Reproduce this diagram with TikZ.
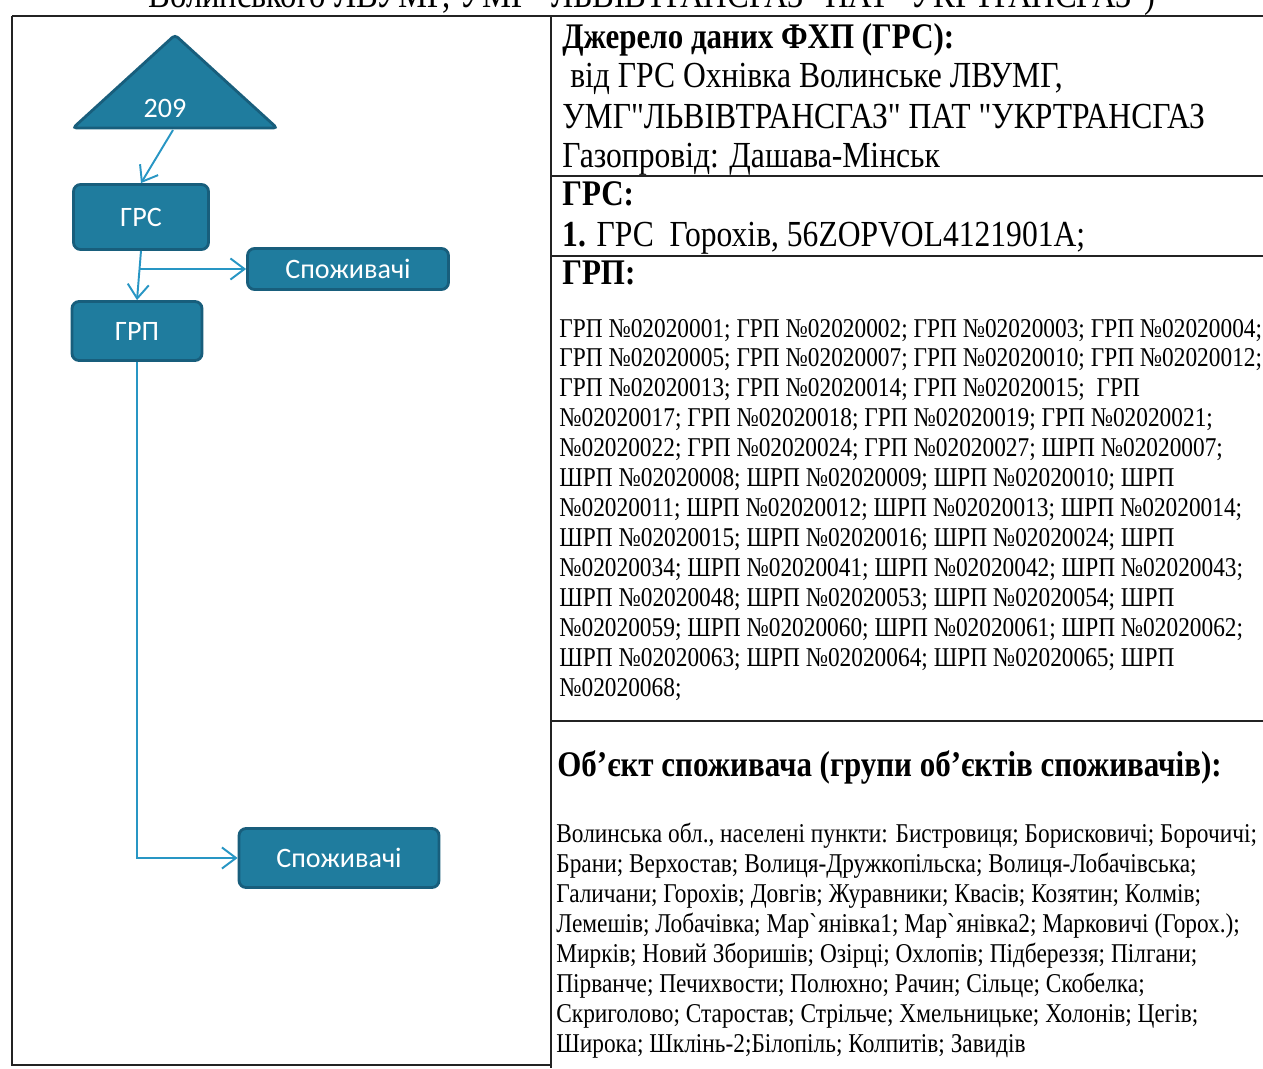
\documentclass[tikz,border=0pt]{standalone}
\usepackage{fontspec}
\newfontfamily\tnr[FakeStretch=0.86]{Liberation Serif}
\newfontfamily\boxfont{Carlito}
\usetikzlibrary{arrows.meta}
\usetikzlibrary{positioning}

\definecolor{boxfill}{RGB}{31,124,158}
\definecolor{boxedge}{RGB}{24,94,124}
\definecolor{pipecol}{RGB}{40,150,196}
\definecolor{rulecol}{RGB}{35,35,35}

\begin{document}
\begin{tikzpicture}[x=0.02cm,y=-0.02cm,
      blk/.style={rectangle,rounded corners=4pt,draw=boxedge,line width=1.6pt,fill=boxfill,
                  text=white,inner sep=0pt,font=\boxfont\fontsize{16}{18}\selectfont},
      tri/.style={draw=boxedge,line width=1.6pt,fill=boxfill,rounded corners=2pt},
      pipe/.style={draw=pipecol,line width=1.1pt,-{Straight Barb[length=8pt,width=12pt]}},
      frame/.style={draw=rulecol,line width=1.1pt},
      big/.style={anchor=base west,inner sep=0pt,font=\tnr\fontsize{20.9}{22}\selectfont},
      hdr/.style={anchor=base west,inner sep=0pt,font=\tnr\bfseries\fontsize{20.5}{22}\selectfont},
      small/.style={anchor=base west,inner sep=0pt,font=\tnr\fontsize{15.45}{17}\selectfont},
  ]
  \path[use as bounding box,fill=white] (0,0) rectangle (1263,1068);
  \clip (0,0) rectangle (1263,1068);

  % table rules
  \draw[frame,line width=1.6pt] (12,16) -- (1263,16);
  \draw[frame] (12,16) -- (12,1066);
  \draw[frame] (12,1065) -- (551,1065);
  \draw[frame] (551,16) -- (551,1068);
  \draw[frame] (551,176) -- (1263,176);
  \draw[frame] (551,256) -- (1263,256);
  \draw[frame] (551,721) -- (1263,721);

  % cut-off heading above the table
  \node[big,font=\tnr\fontsize{21.6}{22}\selectfont] (title) at (148,8) {Волинського ЛВУМГ, УМГ "ЛЬВІВТРАНСГАЗ" ПАТ "УКРТРАНСГАЗ")};

  % scheme
  \filldraw[tri] (175,35) -- (277,128) -- (73,128) -- cycle;
  \node[text=white,font=\boxfont\fontsize{16}{18}\selectfont] (src) at (165,108) {209};
  \coordinate (srcout) at (173,130);

  \node[blk,minimum width=2.7cm,minimum height=1.3cm] (grs) at (141,217) {ГРС};
  \node[blk,minimum width=4.02cm,minimum height=0.82cm] (cons1) at (348,269) {Споживачі};
  \node[blk,minimum width=2.6cm,minimum height=1.18cm] (grp) at (137,331) {ГРП};
  \node[blk,minimum width=4cm,minimum height=1.18cm] (cons2) at (339,858) {Споживачі};

  \draw[pipe] (srcout) -- (grs.north);
  \draw[pipe] (grs.south) -- (grp.north);
  \coordinate (split) at (140,269);
  \draw[pipe] (split) -- (cons1.west);
  \draw[pipe] (grp.south) |- (cons2.west);

  % source data
  \node[hdr] (srchead) at (562,49) {Джерело даних ФХП (ГРС):};
  \node[big] (src1) at (562,88) {\ від ГРС Охнівка Волинське ЛВУМГ,};
  \node[big] (src2) at (562,128) {УМГ"ЛЬВІВТРАНСГАЗ" ПАТ "УКРТРАНСГАЗ};
  \node[big] (src3) at (562,167) {Газопровід: Дашава-Мінськ};

  \node[hdr] (grshead) at (562,205) {ГРС:};
  \node[big] (grs1) at (562,246) {{\bfseries 1.} ГРС\ \ Горохів, 56ZOPVOL4121901A;};

  \node[hdr] (grphead) at (562,284) {ГРП:};
  \foreach \txt [count=\i] in {
      {ГРП №02020001; ГРП №02020002; ГРП №02020003; ГРП №02020004;},
      {ГРП №02020005; ГРП №02020007; ГРП №02020010; ГРП №02020012;},
      {ГРП №02020013; ГРП №02020014; ГРП №02020015;\ \ ГРП},
      {№02020017; ГРП №02020018; ГРП №02020019; ГРП №02020021;},
      {№02020022; ГРП №02020024; ГРП №02020027; ШРП №02020007;},
      {ШРП №02020008; ШРП №02020009; ШРП №02020010; ШРП},
      {№02020011; ШРП №02020012; ШРП №02020013; ШРП №02020014;},
      {ШРП №02020015; ШРП №02020016; ШРП №02020024; ШРП},
      {№02020034; ШРП №02020041; ШРП №02020042; ШРП №02020043;},
      {ШРП №02020048; ШРП №02020053; ШРП №02020054; ШРП},
      {№02020059; ШРП №02020060; ШРП №02020061; ШРП №02020062;},
      {ШРП №02020063; ШРП №02020064; ШРП №02020065; ШРП},
      {№02020068;}}
    \node[small] (grpline\i) at (559,{337+29.95*(\i-1)}) {\txt};

  % consumers
  \node[hdr] (conshead) at (557,776) {Об’єкт споживача (групи об’єктів споживачів):};
  \foreach \txt [count=\i] in {
      {Волинська обл., населені пункти: Бистровиця; Борисковичі; Борочичі;},
      {Брани; Верхостав; Волиця-Дружкопільска; Волиця-Лобачівська;},
      {Галичани; Горохів; Довгів; Журавники; Квасів; Козятин; Колмів;},
      {Лемешів; Лобачівка; Мар\textasciigrave янівка1; Мар\textasciigrave янівка2; Марковичі (Горох.);},
      {Мирків; Новий Зборишів; Озірці; Охлопів; Підбереззя; Пілгани;},
      {Пірванче; Печихвости; Полюхно; Рачин; Сільце; Скобелка;},
      {Скриголово; Старостав; Стрільче; Хмельницьке; Холонів; Цегів;},
      {Широка; Шклінь-2;Білопіль; Колпитів; Завидів}}
    \node[small] (consline\i) at (556,{842+30*(\i-1)}) {\txt};
\end{tikzpicture}
\end{document}
